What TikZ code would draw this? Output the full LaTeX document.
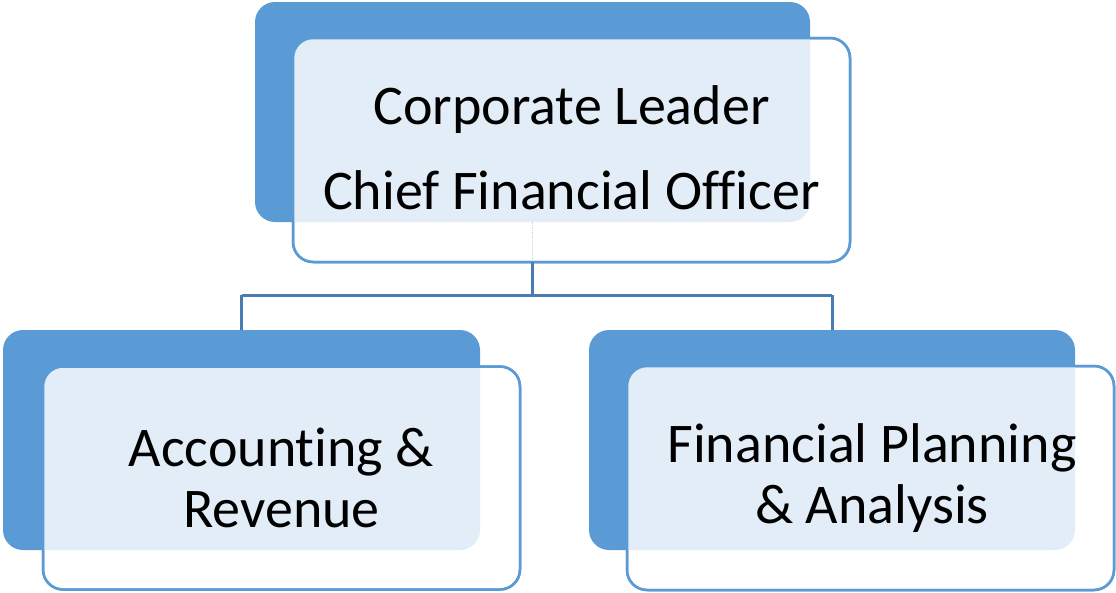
\documentclass[tikz,border=0pt]{standalone}
\usepackage{fontspec}
\setmainfont{Carlito}[Ligatures={NoCommon}]
\definecolor{accent}{RGB}{91,155,213}
\definecolor{linkc}{RGB}{72,124,180}
\definecolor{patc}{RGB}{226,237,248}
\tikzset{
  blueback/.style={fill=accent, rounded corners=20pt, inner sep=0pt, outer sep=0pt},
  whitebox/.style={fill=white, draw=accent, line width=2.5pt, rounded corners=20pt, inner sep=0pt, outer sep=0pt},
  boxborder/.style={draw=accent, line width=2.5pt, rounded corners=20pt},
  patfill/.style={fill=patc, rounded corners=20pt},
  link/.style={draw=linkc, line width=3pt},
  hidden/.style={draw=patc!80!accent, line width=1.5pt, densely dotted},
  toptext/.style={align=center, font=\fontsize{56}{85}\selectfont},
  bottext/.style={align=center, font=\fontsize{56}{61}\selectfont},
}
\newcommand{\orgbox}[7]{%
  % #1 name, #2 back center, #3 back w, #4 back h, #5 front center, #6 front w, #7 front h
  \node[blueback, minimum width=#3pt, minimum height=#4pt] (#1b) at #2 {};
  \node[whitebox, minimum width=#6pt, minimum height=#7pt] (#1w) at #5 {};
  \begin{scope}
    \clip[rounded corners=20pt] (#1w.south west) rectangle (#1w.north east);
    \fill[patfill] (#1b.south west) rectangle (#1b.north east);
  \end{scope}
  \draw[boxborder] (#1w.south west) rectangle (#1w.north east);
}
\begin{document}
\begin{tikzpicture}[x=1pt,y=-1pt]
\useasboundingbox (0,0) rectangle (1116,592);
% connectors
\coordinate (mid) at (532.5,295);
\coordinate (ml) at (241.5,295);
\coordinate (mr) at (832,295);
\orgbox{t}{(532.5,112)}{555}{220}{(571.5,150)}{557}{224}
\orgbox{l}{(241.5,440)}{477}{220}{(281.5,478)}{477}{223}
\orgbox{r}{(832,440)}{486}{220}{(870.5,478)}{487}{224}
\draw[hidden] (tb.south) -- (tb.south |- tw.south);
\draw[link] (tb.south |- tw.south) -- (mid);
\draw[link] (ml) -- (mr);
\draw[link] (ml) -- (lb.north);
\draw[link] (mr) -- (rb.north);
% texts
\node[toptext] (tt) at (571.5,148) {Corporate Leader\\Chief Financial Officer};
\node[bottext] (lt) at (281.5,478) {Accounting \&\\Revenue};
\node[bottext] (rt) at (872,478) {Financial Planning\\\& Analysis};
\end{tikzpicture}
\end{document}
